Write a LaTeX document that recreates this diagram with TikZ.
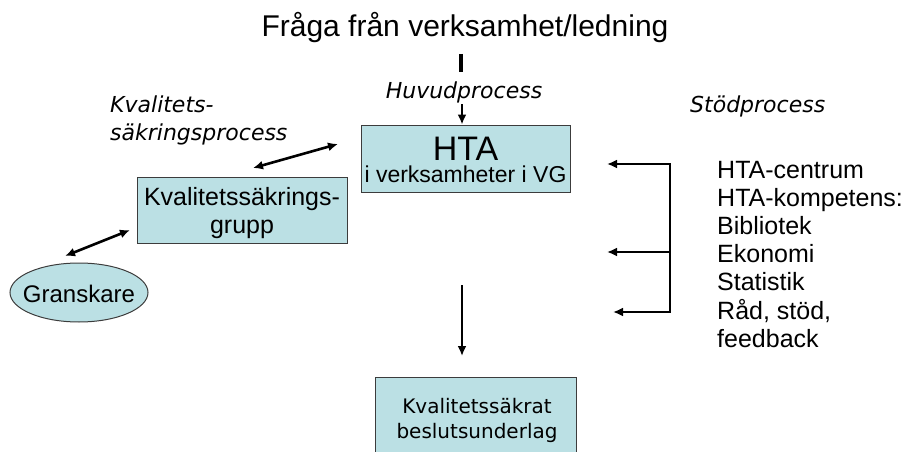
\documentclass[tikz,border=0pt]{standalone}
\usepackage{fontspec}
\setmainfont{Liberation Sans}
\newfontfamily\vfont{DejaVu Sans}
\usetikzlibrary{arrows.meta,shapes.geometric}
\definecolor{boxfill}{RGB}{187,224,228}
\definecolor{boxline}{RGB}{60,60,60}
\tikzset{
  bluebox/.style={draw=boxline,line width=1pt,fill=boxfill,rectangle,inner sep=0pt},
  conn/.style={line width=2.6pt,-{Latex[length=10pt,width=9pt]}},
  dconn/.style={line width=2.6pt,{Latex[length=10pt,width=9pt]}-{Latex[length=10pt,width=9pt]}},
  plain/.style={line width=2.6pt},
  txt/.style={anchor=base,inner sep=0pt},
  ltxt/.style={anchor=base west,inner sep=0pt},
}
\begin{document}
\begin{tikzpicture}[x=1pt,y=-1pt]
\useasboundingbox (0,0) rectangle (908,452);
% title
\node[txt,font=\fontsize{30}{34}\selectfont] (title) at (465,37) {Fråga från verksamhet/ledning};
\coordinate (tl1) at (461,54);
\coordinate (tl2) at (461,72);
\draw[line width=3.5pt] (tl1) -- (tl2);
% Huvudprocess
\node[txt,font=\vfont\itshape\fontsize{22}{26}\selectfont] (huvud) at (464,99) {Huvudprocess};
% HTA box
\node[bluebox,minimum width=209pt,minimum height=67pt] (hta) at (465.5,158.5) {};
\node[txt,font=\fontsize{34}{38}\selectfont] (htat) at (465.5,160) {HTA};
\node[txt,font=\fontsize{23}{26}\selectfont] (htas) at (465.5,182) {i verksamheter i VG};
\coordinate (hin) at (462,104);
\draw[conn,line width=2.2pt] (hin) -- (hin |- hta.north);
% Kvalitetssakringsgrupp
\node[bluebox,minimum width=210pt,minimum height=66pt] (kg) at (242,210) {};
\node[txt,font=\fontsize{25}{28}\selectfont] (kg1) at (242,205) {Kvalitetssäkrings-};
\node[txt,font=\fontsize{25}{28}\selectfont] (kg2) at (242,233) {grupp};
% Granskare
\node[ellipse,draw=boxline,line width=1pt,fill=boxfill,minimum width=138pt,minimum height=59pt,inner sep=0pt] (gran) at (79,292.5) {};
\node[txt,font=\fontsize{24}{28}\selectfont] (grant) at (79,302) {Granskare};
% process label
\node[ltxt,font=\vfont\itshape\fontsize{22}{26}\selectfont] (kp1) at (110,112) {Kvalitets-};
\node[ltxt,font=\vfont\itshape\fontsize{22}{26}\selectfont] (kp2) at (110,140) {säkringsprocess};
% double arrows
\coordinate (a1) at (253,168);
\coordinate (a2) at (338,144);
\draw[dconn] (a1) -- (a2);
\coordinate (b1) at (65,256);
\coordinate (b2) at (130,230);
\draw[dconn] (b1) -- (b2);
% Stodprocess
\node[ltxt,font=\vfont\itshape\fontsize{22}{26}\selectfont] (stod) at (690,112) {Stödprocess};
% bracket
\coordinate (v1) at (670,164);
\coordinate (v2) at (670,252);
\coordinate (v3) at (670,312);
\coordinate (e1) at (607,164);
\coordinate (e2) at (607,252);
\coordinate (e3) at (613,312);
\draw[plain,line cap=rect] (v1) -- (v3);
\draw[conn] (v1) -- (e1);
\draw[conn] (v2) -- (e2);
\draw[conn] (v3) -- (e3);
% list
\foreach \t [count=\i from 0] in {HTA-centrum,HTA-kompetens:,Bibliotek,Ekonomi,Statistik,{Råd, stöd,},feedback}{
  \node[ltxt,font=\fontsize{25}{28}\selectfont] (l\i) at (717,178+28.2*\i) {\t};
}
% down arrow and bottom box
\coordinate (d1) at (462,285);
\coordinate (d2) at (462,356);
\draw[conn] (d1) -- (d2);
\node[bluebox,minimum width=201pt,minimum height=84pt] (bot) at (475.5,419) {};
\node[txt,font=\vfont\fontsize{20}{24}\selectfont] (bot1) at (477,413) {Kvalitetssäkrat};
\node[txt,font=\vfont\fontsize{20}{24}\selectfont] (bot2) at (477,438) {beslutsunderlag};
\end{tikzpicture}
\end{document}
